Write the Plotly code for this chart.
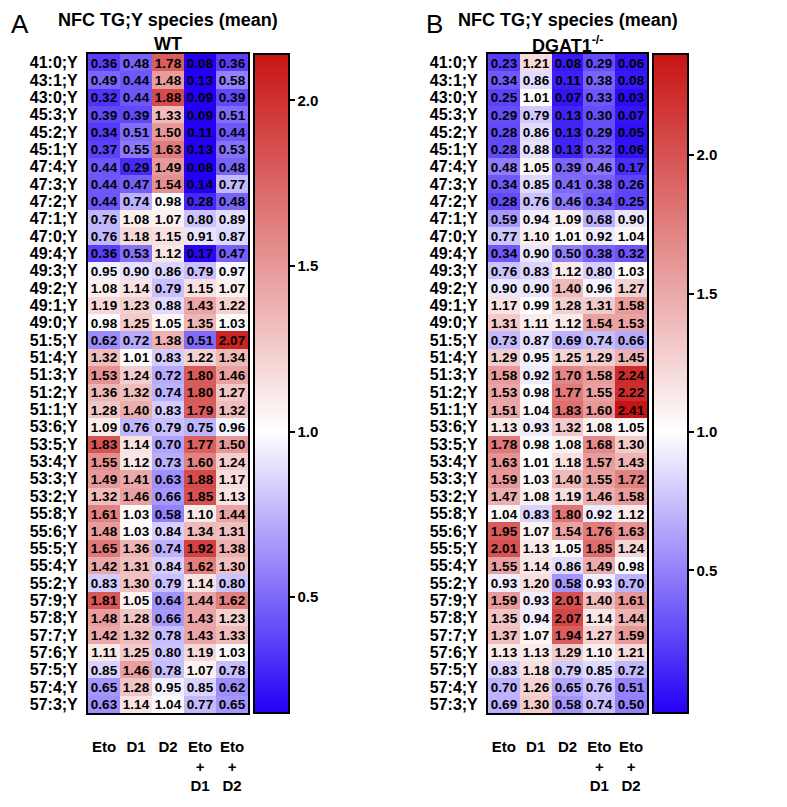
import plotly.graph_objects as go

# ---------------- data ----------------
species = ["41:0;Y", "43:1;Y", "43:0;Y", "45:3;Y", "45:2;Y", "45:1;Y", "47:4;Y", "47:3;Y",
           "47:2;Y", "47:1;Y", "47:0;Y", "49:4;Y", "49:3;Y", "49:2;Y", "49:1;Y", "49:0;Y",
           "51:5;Y", "51:4;Y", "51:3;Y", "51:2;Y", "51:1;Y", "53:6;Y", "53:5;Y", "53:4;Y",
           "53:3;Y", "53:2;Y", "55:8;Y", "55:6;Y", "55:5;Y", "55:4;Y", "55:2;Y", "57:9;Y",
           "57:8;Y", "57:7;Y", "57:6;Y", "57:5;Y", "57:4;Y", "57:3;Y"]
treatments = ["Eto", "D1", "D2", "Eto<br>+<br>D1", "Eto<br>+<br>D2"]

wt_eto = [0.36, 0.49, 0.32, 0.39, 0.34, 0.37, 0.44, 0.44, 0.44, 0.76, 0.76, 0.36, 0.95, 1.08, 1.19, 0.98,
          0.62, 1.32, 1.53, 1.36, 1.28, 1.09, 1.83, 1.55, 1.49, 1.32, 1.61, 1.48, 1.65, 1.42, 0.83, 1.81,
          1.48, 1.42, 1.11, 0.85, 0.65, 0.63]
wt_d1 = [0.48, 0.44, 0.44, 0.39, 0.51, 0.55, 0.29, 0.47, 0.74, 1.08, 1.18, 0.53, 0.90, 1.14, 1.23, 1.25,
         0.72, 1.01, 1.24, 1.32, 1.40, 0.76, 1.14, 1.12, 1.41, 1.46, 1.03, 1.03, 1.36, 1.31, 1.30, 1.05,
         1.28, 1.32, 1.25, 1.46, 1.28, 1.14]
wt_d2 = [1.78, 1.48, 1.88, 1.33, 1.50, 1.63, 1.49, 1.54, 0.98, 1.07, 1.15, 1.12, 0.86, 0.79, 0.88, 1.05,
         1.38, 0.83, 0.72, 0.74, 0.83, 0.79, 0.70, 0.73, 0.63, 0.66, 0.58, 0.84, 0.74, 0.84, 0.79, 0.64,
         0.66, 0.78, 0.80, 0.78, 0.95, 1.04]
wt_eto_d1 = [0.08, 0.13, 0.09, 0.09, 0.11, 0.13, 0.08, 0.14, 0.28, 0.80, 0.91, 0.17, 0.79, 1.15, 1.43, 1.35,
             0.51, 1.22, 1.80, 1.80, 1.79, 0.75, 1.77, 1.60, 1.88, 1.85, 1.10, 1.34, 1.92, 1.62, 1.14, 1.44,
             1.43, 1.43, 1.19, 1.07, 0.85, 0.77]
wt_eto_d2 = [0.36, 0.58, 0.39, 0.51, 0.44, 0.53, 0.48, 0.77, 0.48, 0.89, 0.87, 0.47, 0.97, 1.07, 1.22, 1.03,
             2.07, 1.34, 1.46, 1.27, 1.32, 0.96, 1.50, 1.24, 1.17, 1.13, 1.44, 1.31, 1.38, 1.30, 0.80, 1.62,
             1.23, 1.33, 1.03, 0.78, 0.62, 0.65]

ko_eto = [0.23, 0.34, 0.25, 0.29, 0.28, 0.28, 0.48, 0.34, 0.28, 0.59, 0.77, 0.34, 0.76, 0.90, 1.17, 1.31,
          0.73, 1.29, 1.58, 1.53, 1.51, 1.13, 1.78, 1.63, 1.59, 1.47, 1.04, 1.95, 2.01, 1.55, 0.93, 1.59,
          1.35, 1.37, 1.13, 0.83, 0.70, 0.69]
ko_d1 = [1.21, 0.86, 1.01, 0.79, 0.86, 0.88, 1.05, 0.85, 0.76, 0.94, 1.10, 0.90, 0.83, 0.90, 0.99, 1.11,
         0.87, 0.95, 0.92, 0.98, 1.04, 0.93, 0.98, 1.01, 1.03, 1.08, 0.83, 1.07, 1.13, 1.14, 1.20, 0.93,
         0.94, 1.07, 1.13, 1.18, 1.26, 1.30]
ko_d2 = [0.08, 0.11, 0.07, 0.13, 0.13, 0.13, 0.39, 0.41, 0.46, 1.09, 1.01, 0.50, 1.12, 1.40, 1.28, 1.12,
         0.69, 1.25, 1.70, 1.77, 1.83, 1.32, 1.08, 1.18, 1.40, 1.19, 1.80, 1.54, 1.05, 0.86, 0.58, 2.01,
         2.07, 1.94, 1.29, 0.79, 0.65, 0.58]
ko_eto_d1 = [0.29, 0.38, 0.33, 0.30, 0.29, 0.32, 0.46, 0.38, 0.34, 0.68, 0.92, 0.38, 0.80, 0.96, 1.31, 1.54,
             0.74, 1.29, 1.58, 1.55, 1.60, 1.08, 1.68, 1.57, 1.55, 1.46, 0.92, 1.76, 1.85, 1.49, 0.93, 1.40,
             1.14, 1.27, 1.10, 0.85, 0.76, 0.74]
ko_eto_d2 = [0.06, 0.08, 0.03, 0.07, 0.05, 0.06, 0.17, 0.26, 0.25, 0.90, 1.04, 0.32, 1.03, 1.27, 1.58, 1.53,
             0.66, 1.45, 2.24, 2.22, 2.41, 1.05, 1.30, 1.43, 1.72, 1.58, 1.12, 1.63, 1.24, 0.98, 0.70, 1.61,
             1.44, 1.59, 1.21, 0.72, 0.51, 0.50]

cbar_ticks = [0.5, 1.0, 1.5, 2.0]
cbar_ticktext = ["0.5", "1.0", "1.5", "2.0"]
mid_value = 1.0

# ---------------- layout helpers ----------------
W, H = 787, 807
FONT = "Liberation Sans, Arial, sans-serif"
LOW, MID, HIGH = "rgb(35,0,245)", "rgb(255,255,255)", "rgb(200,20,20)"


def fx(p):
    return p / W


def fy(p):
    return 1 - p / H


def scale(vmin, vmax):
    m = (mid_value - vmin) / (vmax - vmin)
    return [[0, LOW], [m, MID], [1, HIGH]]


def columns_to_rows(*cols):
    return [list(r) for r in zip(*cols)]


wt_z = columns_to_rows(wt_eto, wt_d1, wt_d2, wt_eto_d1, wt_eto_d2)
ko_z = columns_to_rows(ko_eto, ko_d1, ko_d2, ko_eto_d1, ko_eto_d2)

TOP, BOT = 46, 705
panels = [
    dict(z=wt_z, x0=80, x1=240, cb=246, title="WT", letter="A", lx=1, crange=(0.15, 2.14)),
    dict(z=ko_z, x0=480, x1=639, cb=645, title="DGAT1<sup>-/-</sup>", letter="B", lx=416,
         crange=(-0.015, 2.365)),
]

fig = go.Figure()
annotations = []
for i, p in enumerate(panels):
    sfx = "" if i == 0 else str(i + 1)
    vmin, vmax = p["crange"]
    fig.add_trace(go.Heatmap(
        z=p["z"], x=list(range(len(treatments))), y=species,
        xaxis="x" + sfx, yaxis="y" + sfx, coloraxis="coloraxis" + sfx,
        texttemplate="<b>%{z:.2f}</b>",
        textfont=dict(family=FONT, size=13.5, color="black"),
        xgap=0, ygap=0, hoverinfo="skip",
    ))
    fig.layout["coloraxis" + sfx] = dict(
        cmin=vmin, cmax=vmax, colorscale=scale(vmin, vmax),
        colorbar=dict(
            x=fx(p["cb"]), xanchor="left", xpad=0, ypad=0,
            y=fy((TOP + BOT) / 2), yanchor="middle",
            len=BOT - TOP, lenmode="pixels",
            thickness=35, thicknessmode="pixels",
            outlinewidth=2, outlinecolor="black",
            ticks="outside", ticklen=5, tickwidth=1.5, tickcolor="black",
            tickmode="array", tickvals=cbar_ticks, ticktext=cbar_ticktext,
            tickfont=dict(family=FONT, size=15, color="black", weight="bold"),
        ),
    )
    fig.layout["xaxis" + sfx] = dict(
        domain=[fx(p["x0"]), fx(p["x1"])], anchor="y" + sfx,
        tickmode="array", tickvals=list(range(len(treatments))), ticktext=treatments,
        tickfont=dict(family=FONT, size=15, color="black", weight="bold"),
        ticks="outside", ticklen=19, tickcolor="rgba(0,0,0,0)",
        showline=True, linewidth=2, linecolor="black", mirror=True,
        showgrid=False, zeroline=False, fixedrange=True,
    )
    fig.layout["yaxis" + sfx] = dict(
        domain=[fy(BOT), fy(TOP)], anchor="x" + sfx,
        autorange="reversed", type="category",
        tickmode="array", tickvals=species, ticktext=species,
        tickfont=dict(family=FONT, size=16, color="black", weight="bold"),
        ticks="outside", ticklen=5, tickcolor="rgba(0,0,0,0)",
        showline=True, linewidth=2, linecolor="black", mirror=True,
        showgrid=False, zeroline=False, fixedrange=True,
    )
    cx = fx((p["x0"] + p["x1"]) / 2)
    annotations += [
        dict(text="<b>NFC TG;Y species (mean)</b>", x=cx, y=fy(12), xref="paper", yref="paper",
             xanchor="center", yanchor="middle", showarrow=False,
             font=dict(family=FONT, size=18, color="black")),
        dict(text="<b>" + p["title"] + "</b>", x=cx, y=fy(36), xref="paper", yref="paper",
             xanchor="center", yanchor="middle", showarrow=False,
             font=dict(family=FONT, size=18, color="black")),
        dict(text=p["letter"], x=fx(p["lx"]), y=fy(16), xref="paper", yref="paper",
             xanchor="left", yanchor="middle", showarrow=False,
             font=dict(family=FONT, size=26, color="black")),
    ]

fig.update_layout(
    width=W, height=H, margin=dict(l=0, r=0, t=0, b=0),
    paper_bgcolor="white", plot_bgcolor="white",
    annotations=annotations, showlegend=False,
    font=dict(family=FONT, color="black"),
)

fig.write_html("out.html")
